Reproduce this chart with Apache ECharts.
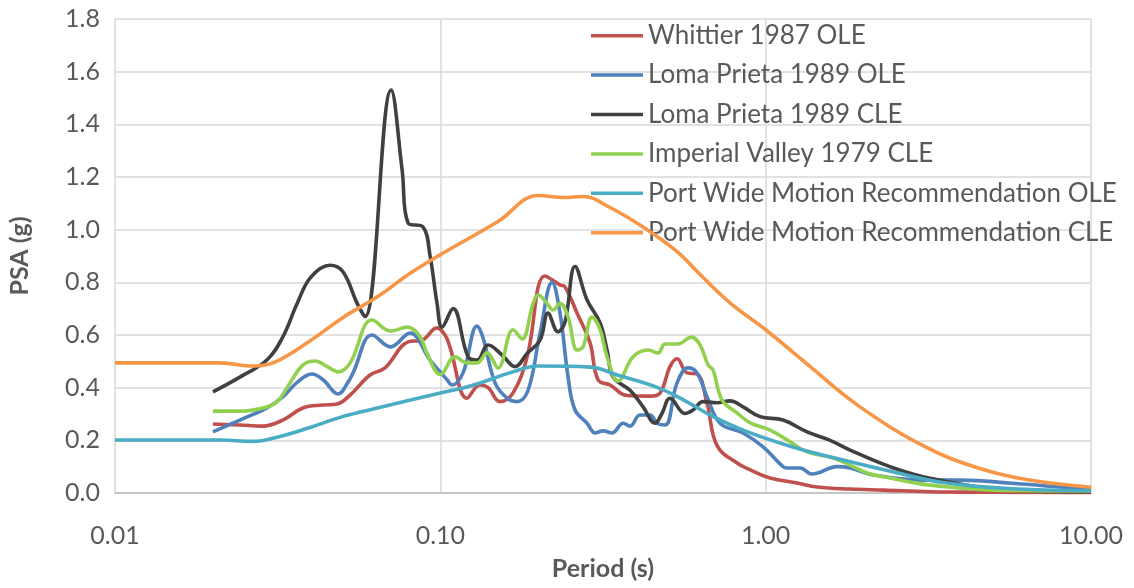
<!DOCTYPE html>
<html>
<head>
<meta charset="utf-8">
<script src="https://cdn.jsdelivr.net/npm/echarts@6/dist/echarts.min.js"></script>
<style>
  html, body { margin: 0; padding: 0; background: #fff; }
  #chart { width: 1134px; height: 588px; }
</style>
</head>
<body>
<div id="chart"></div>
<script>
// [period (s), PSA (g)] pairs
const whittierOLE = [[0.02,0.262],[0.0242,0.258],[0.0285,0.254],[0.0328,0.277],[0.0378,0.323],[0.0436,0.334],[0.0481,0.338],[0.0528,0.372],[0.0608,0.448],[0.0676,0.475],[0.0796,0.574],[0.0878,0.58],[0.0977,0.627],[0.1034,0.6],[0.107,0.555],[0.1208,0.36],[0.1324,0.41],[0.1402,0.4],[0.1526,0.347],[0.1673,0.38],[0.1848,0.517],[0.2098,0.824],[0.2333,0.79],[0.2417,0.783],[0.2633,0.683],[0.2885,0.57],[0.3053,0.43],[0.3325,0.41],[0.375,0.37],[0.4413,0.368],[0.4737,0.38],[0.508,0.48],[0.534,0.51],[0.5733,0.456],[0.6153,0.452],[0.6605,0.34],[0.709,0.18],[0.8169,0.114],[0.9,0.087],[1.032,0.057],[1.249,0.038],[1.439,0.023],[1.818,0.015],[2.3,0.011],[3.2,0.005],[5,0.003],[10,0.002]];

const lomaPrietaOLE = [[0.02,0.232],[0.0242,0.277],[0.0293,0.323],[0.0328,0.365],[0.0363,0.42],[0.0403,0.452],[0.0436,0.43],[0.0485,0.376],[0.052,0.42],[0.0539,0.456],[0.0617,0.6],[0.0703,0.555],[0.0807,0.607],[0.093,0.505],[0.1049,0.43],[0.1086,0.41],[0.1174,0.456],[0.1297,0.634],[0.1353,0.589],[0.1473,0.418],[0.1604,0.36],[0.1721,0.347],[0.1861,0.39],[0.2025,0.607],[0.2205,0.8],[0.2333,0.683],[0.247,0.44],[0.2595,0.315],[0.2825,0.265],[0.299,0.228],[0.3164,0.236],[0.3373,0.228],[0.3646,0.265],[0.383,0.254],[0.4106,0.296],[0.4413,0.296],[0.4637,0.265],[0.4908,0.258],[0.534,0.418],[0.5774,0.475],[0.6153,0.456],[0.6605,0.365],[0.724,0.265],[0.852,0.228],[0.982,0.175],[1.131,0.1],[1.163,0.095],[1.276,0.095],[1.389,0.072],[1.658,0.1],[1.818,0.095],[2.14,0.068],[3.2,0.049],[4,0.049],[5.6,0.038],[10,0.012]];

const lomaPrietaCLE = [[0.02,0.384],[0.0242,0.44],[0.0293,0.505],[0.0328,0.593],[0.0363,0.72],[0.04,0.82],[0.0458,0.865],[0.0502,0.84],[0.0555,0.72],[0.0587,0.67],[0.0706,1.53],[0.0763,1.227],[0.0796,1.025],[0.0885,1.01],[0.093,0.9],[0.0977,0.72],[0.1012,0.63],[0.1094,0.7],[0.1217,0.517],[0.1297,0.505],[0.1402,0.562],[0.1548,0.524],[0.1697,0.48],[0.1848,0.53],[0.2025,0.58],[0.2143,0.683],[0.23,0.612],[0.2417,0.65],[0.2595,0.86],[0.2825,0.733],[0.31,0.645],[0.3254,0.543],[0.34,0.44],[0.383,0.39],[0.42,0.327],[0.457,0.265],[0.48,0.302],[0.508,0.36],[0.565,0.302],[0.598,0.315],[0.642,0.347],[0.709,0.343],[0.777,0.35],[0.852,0.327],[0.961,0.29],[1.131,0.277],[1.341,0.232],[1.578,0.2],[1.818,0.163],[2.41,0.1],[3.2,0.056],[5.6,0.012],[10,0.005]];

const imperialValleyCLE = [[0.02,0.311],[0.0242,0.311],[0.0285,0.323],[0.0315,0.347],[0.0345,0.418],[0.0378,0.486],[0.0412,0.501],[0.0449,0.48],[0.0485,0.46],[0.0528,0.494],[0.0617,0.657],[0.0703,0.615],[0.079,0.63],[0.0866,0.593],[0.091,0.53],[0.1,0.45],[0.111,0.517],[0.1208,0.494],[0.1297,0.494],[0.1392,0.532],[0.1504,0.475],[0.1673,0.62],[0.1783,0.585],[0.1928,0.72],[0.1998,0.752],[0.2128,0.72],[0.222,0.695],[0.2333,0.72],[0.247,0.668],[0.2633,0.543],[0.2746,0.555],[0.2927,0.668],[0.31,0.62],[0.3254,0.517],[0.3518,0.425],[0.3912,0.517],[0.435,0.543],[0.467,0.532],[0.4908,0.566],[0.536,0.566],[0.5917,0.592],[0.6286,0.562],[0.6654,0.486],[0.689,0.467],[0.7345,0.353],[0.8169,0.304],[0.9,0.265],[1.032,0.239],[1.189,0.194],[1.341,0.156],[1.612,0.133],[1.818,0.106],[2.05,0.076],[2.413,0.057],[2.779,0.042],[3.2,0.03],[5,0.011],[10,0.008]];

const portWideOLE = [[0.01,0.201],[0.021,0.201],[0.0266,0.196],[0.0315,0.212],[0.04,0.25],[0.05,0.29],[0.064,0.323],[0.081,0.353],[0.1,0.38],[0.123,0.405],[0.167,0.46],[0.2,0.482],[0.29,0.478],[0.35,0.448],[0.46,0.403],[0.56,0.353],[0.69,0.29],[0.88,0.232],[1.21,0.175],[1.73,0.125],[2.47,0.08],[3.5,0.04],[5.6,0.017],[10,0.009]];

const portWideCLE = [[0.01,0.494],[0.021,0.494],[0.0266,0.482],[0.031,0.497],[0.04,0.58],[0.05,0.665],[0.064,0.745],[0.081,0.835],[0.1,0.905],[0.15,1.03],[0.2,1.13],[0.24,1.122],[0.275,1.126],[0.33,1.086],[0.42,1.01],[0.53,0.92],[0.64,0.82],[0.78,0.72],[1.0,0.62],[1.37,0.48],[1.95,0.327],[3.1,0.175],[4.5,0.095],[6.4,0.05],[10,0.022]];

const seriesNames = ['Whittier 1987 OLE', 'Loma Prieta 1989 OLE', 'Loma Prieta 1989 CLE',
  'Imperial Valley 1979 CLE', 'Port Wide Motion Recommendation OLE', 'Port Wide Motion Recommendation CLE'];
const seriesData = [whittierOLE, lomaPrietaOLE, lomaPrietaCLE, imperialValleyCLE, portWideOLE, portWideCLE];
const seriesColors = ['#C0504D', '#4F81BD', '#404040', '#92D050', '#4BACC6', '#F79646'];

const xTicks = [0.01, 0.1, 1, 10];
const yMin = 0, yMax = 1.8, yStep = 0.2;

const FONT = 'Lato, "Open Sans", sans-serif';
const TEXT = '#595959';

const chart = echarts.init(document.getElementById('chart'), null, { renderer: 'canvas' });

chart.setOption({
  animation: false,
  textStyle: { fontFamily: FONT },
  grid: { left: 115, right: 43, top: 19, bottom: 95, outerBoundsMode: 'none', containLabel: false },
  legend: {
    orient: 'vertical',
    left: 586,
    top: 11,
    icon: 'rect',
    itemWidth: 52,
    itemHeight: 3.5,
    itemGap: 0,
    data: seriesNames,
    textStyle: { fontSize: 26, color: TEXT, fontFamily: FONT, lineHeight: 39.4 }
  },
  xAxis: {
    type: 'log',
    logBase: 10,
    min: xTicks[0],
    max: xTicks[xTicks.length - 1],
    name: 'Period (s)',
    nameLocation: 'middle',
    nameGap: 63,
    nameTextStyle: { fontSize: 25, fontWeight: 'bold', color: TEXT, fontFamily: FONT },
    axisLine: { show: true, lineStyle: { color: '#BFBFBF', width: 1.5 } },
    axisTick: { show: false },
    axisLabel: {
      margin: 30,
      fontSize: 25,
      color: TEXT,
      fontFamily: FONT,
      formatter: v => Number(v).toFixed(2)
    },
    splitLine: { show: true, lineStyle: { color: '#D9D9D9', width: 1.5 } }
  },
  yAxis: {
    type: 'value',
    min: yMin,
    max: yMax,
    interval: yStep,
    name: 'PSA (g)',
    nameLocation: 'middle',
    nameGap: 83,
    nameTextStyle: { fontSize: 25, fontWeight: 'bold', color: TEXT, fontFamily: FONT },
    axisLine: { show: false },
    axisTick: { show: false },
    axisLabel: {
      margin: 15,
      fontSize: 25,
      color: TEXT,
      fontFamily: FONT,
      formatter: v => Number(v).toFixed(1)
    },
    splitLine: { show: true, lineStyle: { color: '#D9D9D9', width: 1.5 } }
  },
  series: seriesNames.map((name, i) => ({
    name: name,
    type: 'line',
    data: seriesData[i],
    smooth: 0.4,
    symbol: 'none',
    color: seriesColors[i],
    lineStyle: { width: 3.6, color: seriesColors[i] },
    z: 2 + i
  }))
});
</script>
</body>
</html>
